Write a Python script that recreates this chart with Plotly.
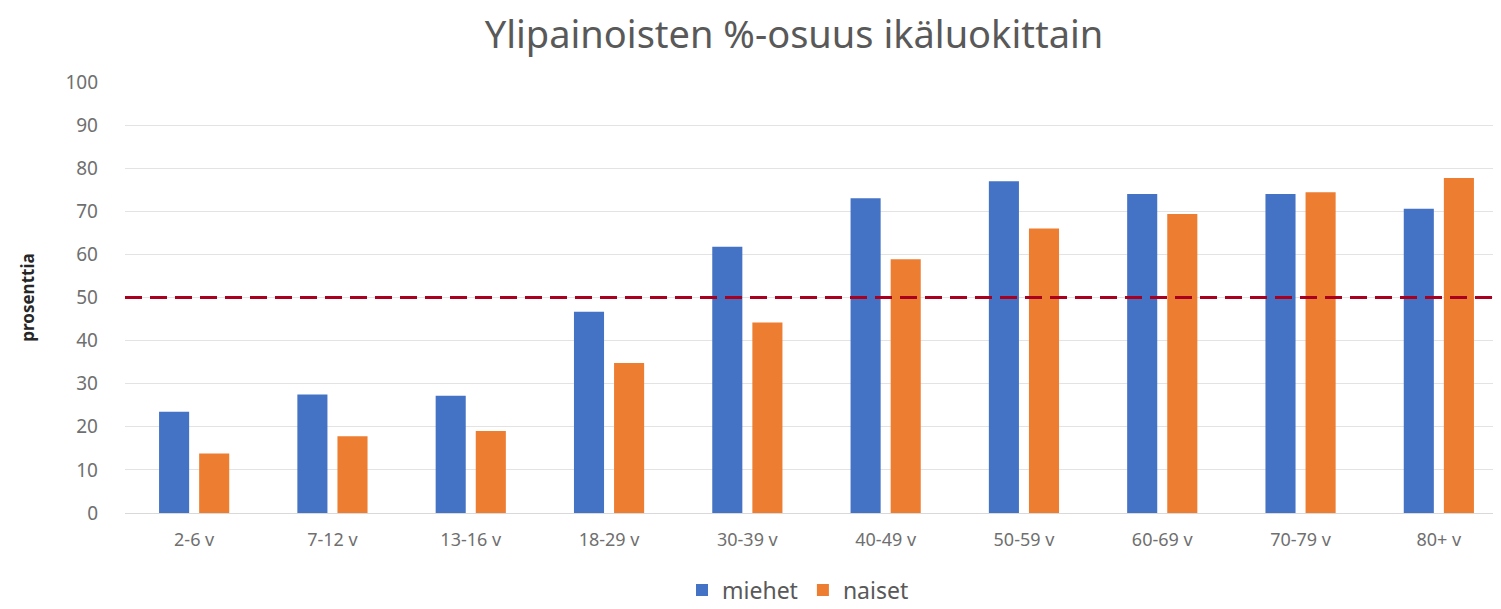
import plotly.graph_objects as go

categories = ["2-6 v", "7-12 v", "13-16 v", "18-29 v", "30-39 v",
              "40-49 v", "50-59 v", "60-69 v", "70-79 v", "80+ v"]
miehet = [23.5, 27.5, 27.2, 46.7, 61.8, 73.0, 77.0, 74.0, 74.0, 70.6]
naiset = [13.8, 17.8, 19.0, 34.8, 44.2, 58.9, 66.0, 69.4, 74.4, 77.7]
threshold = 50
y_ticks = list(range(0, 101, 10))

FONT = "Noto Sans"
GREY = "#595959"
TICKGREY = "#6f6f6f"

fig = go.Figure()
fig.add_trace(go.Bar(x=categories, y=miehet, name="miehet",
                     marker=dict(color="#4472C4", line=dict(width=0))))
fig.add_trace(go.Bar(x=categories, y=naiset, name="naiset",
                     marker=dict(color="#ED7D31", line=dict(width=0))))

fig.add_shape(type="line", xref="paper", yref="y", x0=0, x1=1,
              y0=threshold, y1=threshold,
              line=dict(color="#A8001E", width=3, dash="17px,8px"),
              layer="above")

fig.update_layout(
    width=1501, height=609,
    margin=dict(l=117, r=1, t=74, b=104, autoexpand=False),
    paper_bgcolor="white", plot_bgcolor="white",
    barmode="group", bargap=0.42, bargroupgap=0.25,
    font=dict(family=FONT, color=GREY),
    title=dict(text="Ylipainoisten %-osuus ikäluokittain",
               x=786 / 1501, xanchor="center", xref="container",
               y=1 - 27 / 609, yanchor="middle", yref="container",
               font=dict(family=FONT, size=38, color=GREY)),
    legend=dict(orientation="h", xref="container", yref="container",
                x=790 / 1501, xanchor="center", y=1 - 582 / 609, yanchor="middle",
                font=dict(family=FONT, size=23, color=GREY),
                itemwidth=30, traceorder="normal"),
    xaxis=dict(showgrid=False, showline=True, linecolor="#d9d9d9", linewidth=1,
               tickfont=dict(family=FONT, size=18, color=TICKGREY),
               ticks="", ticklabelstandoff=10),
    yaxis=dict(range=[0, 100], tickvals=y_ticks, showgrid=True,
               gridcolor="#e3e3e3", gridwidth=1, zeroline=False,
               showline=False, ticks="",
               tickfont=dict(family=FONT, size=19, color=TICKGREY),
               ticklabelstandoff=26,
               title=dict(text="<b>prosenttia</b>", standoff=26,
                          font=dict(family=FONT, size=17, color="#262626"))),
)

fig.write_html("out.html")
